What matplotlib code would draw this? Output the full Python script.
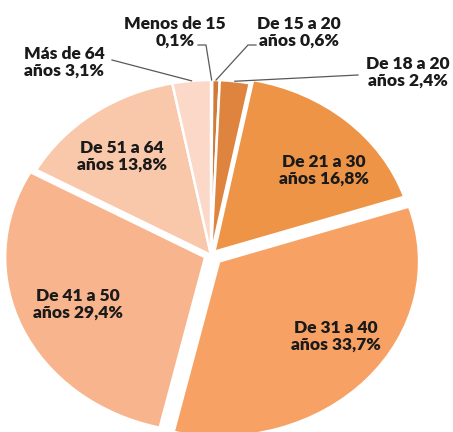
import numpy as np
import matplotlib.pyplot as plt

# age groups and shares (%)
grupos = ["Menos de 15", "De 15 a 20", "De 18 a 20", "De 21 a 30",
          "De 31 a 40", "De 41 a 50", "De 51 a 64", "Más de 64"]
valores = [0.1, 0.6, 2.4, 16.8, 33.7, 29.4, 13.8, 3.1]
colores = ["#c06a30", "#d27a3a", "#df843e", "#ee9446",
           "#f7a264", "#f8b48c", "#f9c7aa", "#fcd8c9"]
separar = [0, 0, 0, 0.025, 0.055, 0.032, 0, 0]

W, H = 453, 432
cx, cy = 211, 255      # pie centre in pixels
a, b = 200, 175        # the pie is a bit stretched sideways


def px(x, y):
    return ((x - cx) / a, (cy - y) / b)


def pct(v):
    return ("%.1f" % v).replace(".", ",") + "%"


plt.rcParams['font.family'] = ['Lato', 'DejaVu Sans']
fig = plt.figure(figsize=(W / 100, H / 100), dpi=100)
ax = fig.add_axes([0, 0, 1, 1])

wedges, _ = ax.pie(valores, colors=colores, explode=separar, startangle=90,
                   counterclock=False, radius=1,
                   wedgeprops=dict(edgecolor="white", linewidth=1.8))
ax.set_aspect('auto')
ax.set_xlim(px(0, 0)[0], px(W, 0)[0])
ax.set_ylim(px(0, H)[1], px(0, 0)[1])
ax.axis('off')

etiquetas = []
for g, v in zip(grupos, valores):
    if g == "Menos de 15":
        etiquetas.append(g + "\n" + pct(v))
    else:
        etiquetas.append(g + "\naños " + pct(v))

# text centres (pixels)
pos_texto = [(175, 32), (299, 32), (408, 72), (324, 170),
             (336, 336), (78, 304), (122, 156), (64, 62)]
for lab, (x, y) in zip(etiquetas, pos_texto):
    ax.text(*px(x, y), lab, ha="center", va="center", fontsize=12.5,
            fontweight="heavy", color="#1a1a1a", linespacing=1.05)

# leader lines for the small slices: from text to the slice edge
guias = {0: [(198, 45), (206, 45)], 1: [(256, 45), (248, 45)],
         2: [(358, 75)], 7: [(112, 60)]}
ang = 90.0
for i, v in enumerate(valores):
    medio = ang - v / sum(valores) * 360 / 2
    ang -= v / sum(valores) * 360
    if i in guias:
        t = np.deg2rad(medio)
        pts = [px(x, y) for x, y in guias[i]] + [(np.cos(t), np.sin(t))]
        xs, ys = zip(*pts)
        ax.plot(xs, ys, color="#595959", lw=0.9)

fig.savefig("out.png", dpi=100)
